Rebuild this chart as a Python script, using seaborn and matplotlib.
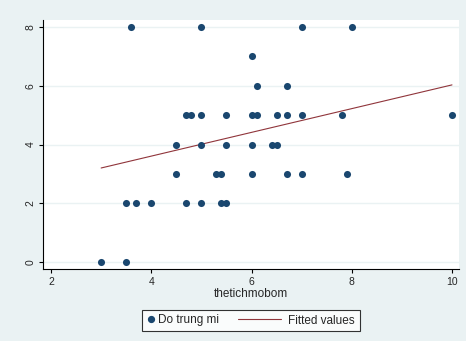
import numpy as np
import pandas as pd
import seaborn as sns
import matplotlib.pyplot as plt
from matplotlib.lines import Line2D
from matplotlib.legend_handler import HandlerLine2D

# scatter data (x = thetichmobom, y = Do trung mi)
x_vals = [3.6, 5.0, 7.0, 8.0,
          6.0,
          6.1, 6.7,
          4.7, 4.8, 5.0, 5.5, 6.0, 6.1, 6.5, 6.7, 7.0, 7.8, 10.0,
          4.5, 5.0, 5.5, 6.0, 6.4, 6.5,
          4.5, 5.3, 5.4, 6.0, 6.7, 7.0, 7.9,
          3.5, 3.7, 4.0, 4.7, 5.0, 5.4, 5.5,
          3.0, 3.5]
y_vals = [8, 8, 8, 8,
          7,
          6, 6,
          5, 5, 5, 5, 5, 5, 5, 5, 5, 5, 5,
          4, 4, 4, 4, 4, 4,
          3, 3, 3, 3, 3, 3, 3,
          2, 2, 2, 2, 2, 2, 2,
          0, 0]

# fitted line endpoints
fit_x = [3.0, 10.0]
fit_y = [3.20, 6.03]

df = pd.DataFrame({"thetichmobom": x_vals, "dotrungmi": y_vals})
fit = pd.DataFrame({"x": fit_x, "y": fit_y})

bg = "#EAF2F3"
navy = "#1A476F"
maroon = "#90353B"


# legend line that reaches back to the left of its (short) handle box
class LongLine(HandlerLine2D):
    def get_xdata(self, legend, xdescent, ydescent, width, height, fontsize):
        end = width - xdescent - 2.4
        xd = np.array([end - 31.0, end])
        return xd, xd


sns.set_style("white")
plt.rcParams["font.family"] = ["Liberation Sans", "DejaVu Sans"]

fig = plt.figure(figsize=(4.66, 3.41), dpi=100, facecolor=bg)
ax = fig.add_axes([43 / 466, 1 - 269 / 341, (459 - 43) / 466, (269 - 20) / 341])
ax.set_facecolor("white")

sns.scatterplot(data=df, x="thetichmobom", y="dotrungmi", ax=ax, color=navy,
                s=26, linewidth=0, zorder=3, legend=False)
sns.lineplot(data=fit, x="x", y="y", ax=ax, color=maroon, linewidth=0.8,
             zorder=2, legend=False)

ax.set_xlim(1.84, 10.14)
ax.set_ylim(-0.24, 8.24)
ax.set_xticks([2, 4, 6, 8, 10])
ax.set_yticks([0, 2, 4, 6, 8])
for yy in [0, 2, 4, 6, 8]:
    ax.axhline(yy, color=bg, linewidth=1.0, zorder=1)

for s in ["top", "right"]:
    ax.spines[s].set_visible(False)
for s in ["left", "bottom"]:
    ax.spines[s].set_color("black")
    ax.spines[s].set_linewidth(0.8)

ax.tick_params(axis="both", direction="out", length=3, width=0.8,
               color="black", labelsize=7.5, pad=2.5, left=True, bottom=True)
plt.setp(ax.get_yticklabels(), rotation=90, va="center")
ax.set_xlabel("thetichmobom", fontsize=8.5, labelpad=1)
ax.set_ylabel("")

dot = Line2D([], [], marker="o", linestyle="none", color=navy, markersize=4.2)
fline = Line2D([], [], color=maroon, linewidth=0.8)
leg = fig.legend([dot, fline], ["Do trung mi", "Fitted values"], loc="center",
                 bbox_to_anchor=(251 / 466, 1 - 320.5 / 341), ncol=2, fontsize=8.5,
                 frameon=True, fancybox=False, handlelength=0.6,
                 columnspacing=5.0, borderpad=0.4, handletextpad=0.3,
                 handler_map={fline: LongLine()})
leg.get_frame().set_edgecolor("black")
leg.get_frame().set_linewidth(0.8)
leg.get_frame().set_facecolor("white")

fig.savefig("out.png", dpi=100, facecolor=bg)
